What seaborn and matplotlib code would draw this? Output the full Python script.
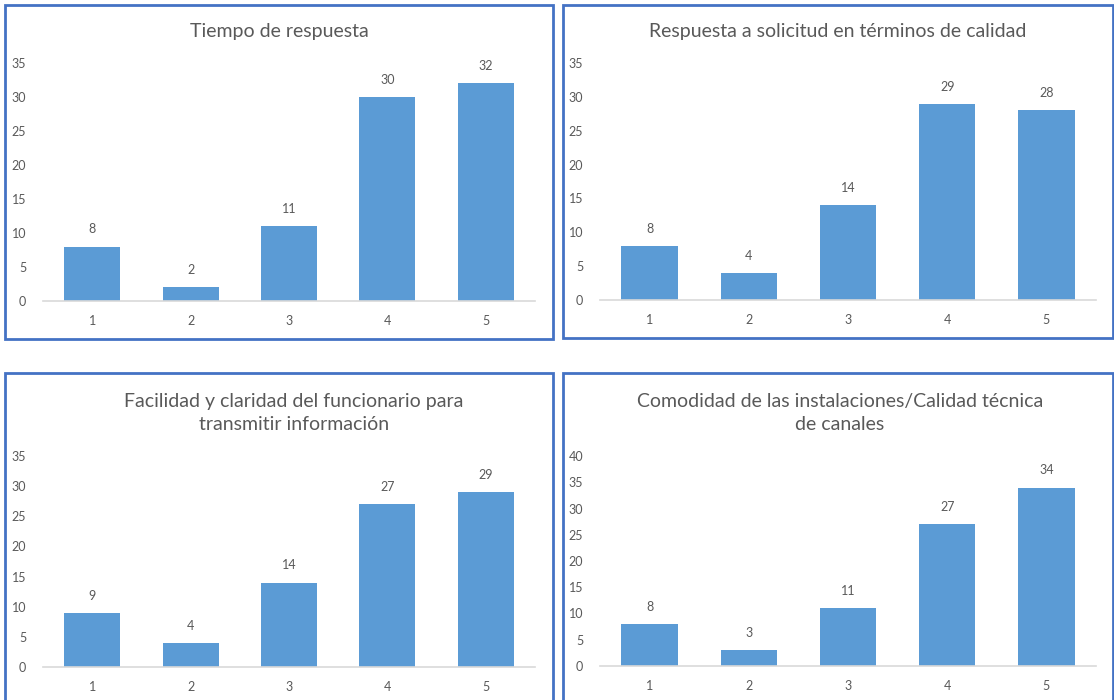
import numpy as np
import pandas as pd
import matplotlib
matplotlib.use('Agg')
import matplotlib.pyplot as plt
import seaborn as sns
from matplotlib.patches import Rectangle

sns.set_theme(style='white')
plt.rcParams['font.family'] = ['Lato', 'DejaVu Sans']

# Datos
categorias = ['1', '2', '3', '4', '5']
tiempo_respuesta = [8, 2, 11, 30, 32]
calidad_respuesta = [8, 4, 14, 29, 28]
facilidad_claridad = [9, 4, 14, 27, 29]
comodidad_instalaciones = [8, 3, 11, 27, 34]

titulos = [
    'Tiempo de respuesta',
    'Respuesta a solicitud en términos de calidad',
    'Facilidad y claridad del funcionario para\ntransmitir información',
    'Comodidad de las instalaciones/Calidad técnica\nde canales',
]
series = [tiempo_respuesta, calidad_respuesta, facilidad_claridad, comodidad_instalaciones]
ymax = [35, 35, 35, 40]

W, H = 1114, 700
fig = plt.figure(figsize=(W / 100, H / 100), dpi=100)

color_barra = '#5B9BD5'
color_texto = '#595959'
color_borde = '#4472C4'

# posiciones en píxeles: (x0, x1, y_top, y_base), borde (x0, x1, y0, y1), título (cx, cy)
ejes_px = [(43, 535, 63, 301), (600, 1096, 63, 300), (43, 535, 456, 667), (600, 1096, 456, 666)]
bordes_px = [(5, 553, 5, 339), (563, 1113, 5, 338), (5, 553, 373, 710), (563, 1113, 373, 710)]
titulos_px = [(279, 32), (838, 32), (294, 413), (840, 413)]

for i in range(4):
    x0, x1, yt, yb = ejes_px[i]
    ax = fig.add_axes([x0 / W, 1 - yb / H, (x1 - x0) / W, (yb - yt) / H])
    df = pd.DataFrame({'cat': categorias, 'valor': series[i]})
    sns.barplot(data=df, x='cat', y='valor', color=color_barra, saturation=1,
                width=0.57, ax=ax, edgecolor='none')
    ax.set_xlim(-0.5, 4.5)
    ax.set_ylim(0, ymax[i])
    ax.set_yticks(np.arange(0, ymax[i] + 1, 5))
    ax.set_xlabel('')
    ax.set_ylabel('')
    for s in ['top', 'right', 'left']:
        ax.spines[s].set_visible(False)
    ax.spines['bottom'].set_color('#D9D9D9')
    ax.spines['bottom'].set_linewidth(1.2)
    ax.tick_params(axis='both', length=0, labelsize=9, colors=color_texto)
    ax.tick_params(axis='y', pad=12)
    ax.tick_params(axis='x', pad=10)
    for c in ax.containers:
        ax.bar_label(c, padding=8, fontsize=9, color=color_texto)

    bx0, bx1, by0, by1 = bordes_px[i]
    fig.patches.append(Rectangle((bx0 / W, 1 - by1 / H), (bx1 - bx0) / W, (by1 - by0) / H,
                                 transform=fig.transFigure, fill=False,
                                 edgecolor=color_borde, linewidth=2))
    cx, cy = titulos_px[i]
    fig.text(cx / W, 1 - cy / H, titulos[i], ha='center', va='center',
             fontsize=14, color=color_texto, linespacing=1.4)

plt.savefig('out.png', dpi=100)
